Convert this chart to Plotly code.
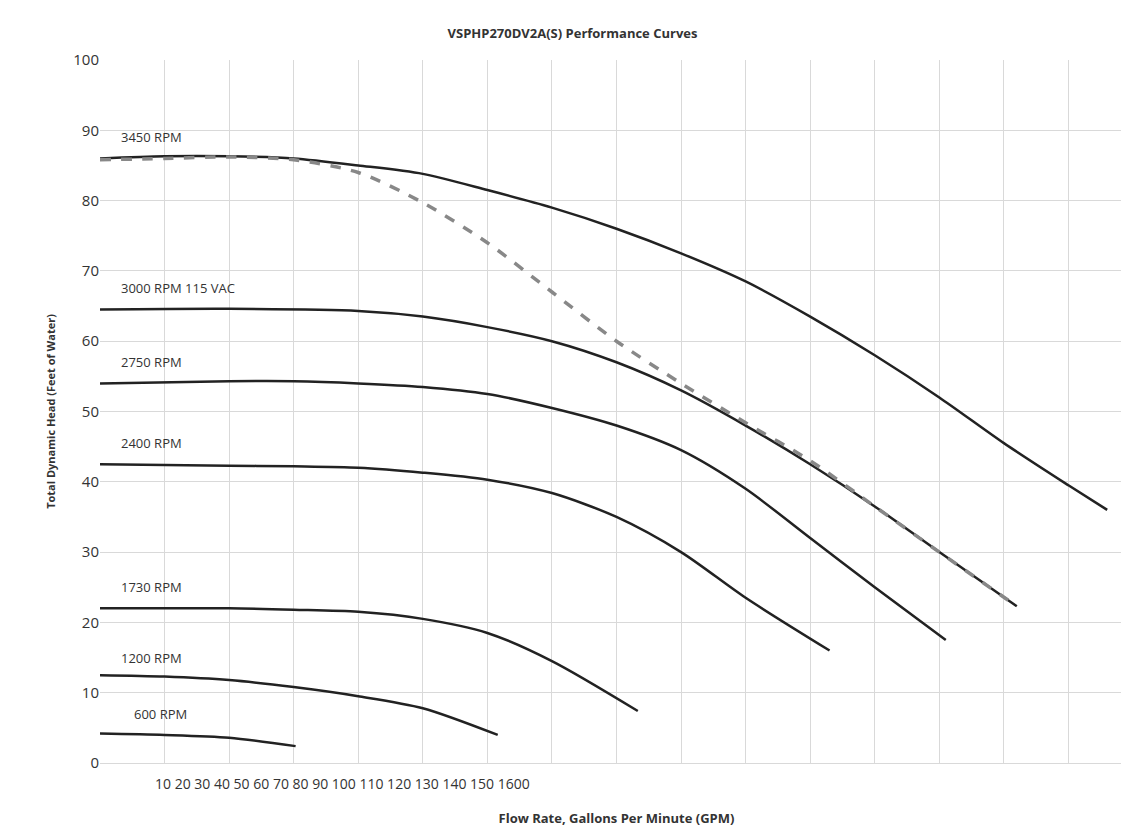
import plotly.graph_objects as go

curves = {
    "3450 RPM": ([0, 10, 20, 30, 40, 50, 60, 70, 80, 90, 100, 110, 120, 130, 140, 150, 156],
                 [86, 86.3, 86.3, 86, 85, 83.8, 81.5, 79, 76, 72.5, 68.5, 63.5, 58, 52, 45.5, 39.5, 36]),
    "3000 RPM 115 VAC": ([0, 20, 40, 50, 60, 70, 80, 90, 100, 110, 120, 130, 142],
                         [64.5, 64.6, 64.3, 63.5, 62, 60, 57, 53, 48, 42.5, 36.5, 30, 22.3]),
    "2750 RPM": ([0, 20, 30, 40, 50, 60, 70, 80, 90, 100, 110, 120, 131],
                 [54, 54.3, 54.3, 54, 53.5, 52.5, 50.5, 48, 44.5, 39, 32, 25, 17.5]),
    "2400 RPM": ([0, 20, 30, 40, 50, 60, 70, 80, 90, 100, 113],
                 [42.5, 42.3, 42.2, 42, 41.3, 40.3, 38.4, 35, 30, 23.5, 16]),
    "1730 RPM": ([0, 20, 30, 40, 50, 60, 70, 83.3],
                 [22, 22, 21.8, 21.5, 20.5, 18.5, 14.5, 7.4]),
    "1200 RPM": ([0, 10, 20, 30, 40, 50, 61.6],
                 [12.5, 12.3, 11.8, 10.8, 9.5, 7.8, 4]),
    "600 RPM": ([0, 10, 20, 30.3],
                [4.2, 4, 3.6, 2.4]),
}
label_y = {"3450 RPM": 89, "3000 RPM 115 VAC": 67.5, "2750 RPM": 57, "2400 RPM": 45.5,
           "1730 RPM": 25, "1200 RPM": 15, "600 RPM": 7}
label_x = {"600 RPM": 5}

dash_x = [0, 10, 20, 30, 40, 50, 60, 70, 80, 90, 100, 110, 120, 130, 142]
dash_y = [85.8, 86, 86.2, 85.8, 84, 79.7, 74, 67, 60, 54, 48.4, 43, 36.5, 30, 22.3]

tick_text = "10 20 30 40 50 60 70 80 90 100 110 120 130 140 150 1600"

fig = go.Figure()
for name, (x, y) in curves.items():
    fig.add_trace(go.Scatter(x=x, y=y, mode="lines",
                             line=dict(color="#222", width=2.5, shape="spline", smoothing=0.8),
                             name=name, showlegend=False))
    fig.add_annotation(x=label_x.get(name, 3), y=label_y[name], text=name, showarrow=False,
                       xanchor="left", font=dict(size=13, color="#333"))
fig.add_trace(go.Scatter(x=dash_x, y=dash_y, mode="lines", showlegend=False,
                         line=dict(color="#888", width=3.5, dash="dash", shape="spline", smoothing=0.8)))

fig.add_annotation(x=8.2, y=-0.045, xref="x", yref="paper", text=tick_text, showarrow=False,
                   xanchor="left", font=dict(size=14, color="#333"))

fig.update_layout(
    width=1129, height=840, plot_bgcolor="white", paper_bgcolor="white",
    font=dict(family="Open Sans", color="#333"),
    margin=dict(l=92, r=4, t=52, b=85),
    title=dict(text="<b>VSPHP270DV2A(S) Performance Curves</b>", x=0.5, y=0.975, font=dict(size=13)),
    xaxis=dict(range=[0, 160], dtick=10, showticklabels=False, showgrid=True, gridcolor="#d9d9d9",
               zeroline=False, linecolor="#d9d9d9", showline=True,
               title=dict(text="<b>Flow Rate, Gallons Per Minute (GPM)</b>", font=dict(size=13), standoff=50)),
    yaxis=dict(range=[0, 100], dtick=10, showgrid=True, gridcolor="#d9d9d9", zeroline=False,
               tickfont=dict(size=15),
               title=dict(text="<b>Total Dynamic Head (Feet of Water)</b>", font=dict(size=11))),
)
fig.write_html("out.html")
